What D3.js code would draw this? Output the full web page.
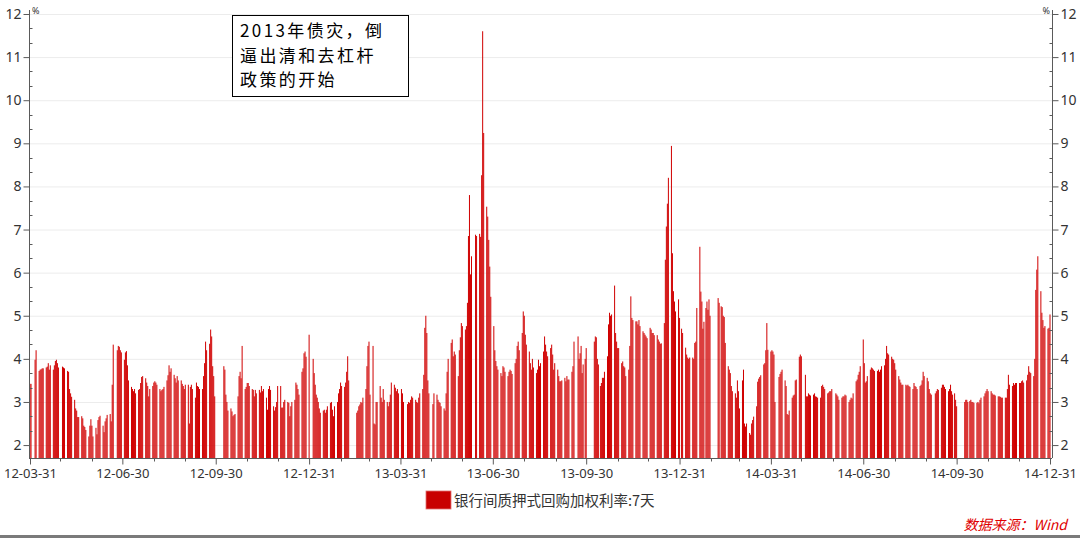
<!DOCTYPE html>
<html><head><meta charset="utf-8">
<script src="https://cdn.jsdelivr.net/npm/d3@7"></script>
<style>
html,body{margin:0;padding:0;background:#fff;}
svg{display:block;}
</style></head>
<body><svg id="c" width="1080" height="538"></svg>
<script>
// ---- data ----
const seriesName = "银行间质押式回购加权利率:7天";
const sourceText = "数据来源：Wind";
const noteLines = ["2013年债灾，倒", "逼出清和去杠杆", "政策的开始"];
const yTicks = [2,3,4,5,6,7,8,9,10,11,12];
const xTickDates = ["2012-03-31","2012-06-30","2012-09-30","2012-12-31","2013-03-31","2013-06-30","2013-09-30","2013-12-31","2014-03-31","2014-06-30","2014-09-30","2014-12-31"];
const holidays = ["2012-04-02","2012-04-03","2012-04-04","2012-04-30","2012-05-01","2012-06-22","2012-10-01","2012-10-02","2012-10-03","2012-10-04","2012-10-05","2013-01-01","2013-01-02","2013-01-03","2013-02-11","2013-02-12","2013-02-13","2013-02-14","2013-02-15","2013-04-04","2013-04-05","2013-04-29","2013-04-30","2013-05-01","2013-06-10","2013-06-11","2013-06-12","2013-09-19","2013-09-20","2013-10-01","2013-10-02","2013-10-03","2013-10-04","2013-10-07","2014-01-01","2014-01-31","2014-02-03","2014-02-04","2014-02-05","2014-02-06","2014-04-07","2014-05-01","2014-05-02","2014-06-02","2014-09-08","2014-10-01","2014-10-02","2014-10-03","2014-10-06","2014-10-07"];
const makeupDays = ["2012-03-31","2012-04-01","2012-04-28","2012-09-29","2013-01-05","2013-01-06","2013-02-16","2013-02-17","2013-04-07","2013-04-27","2013-04-28","2013-06-08","2013-06-09","2013-09-22","2013-09-29","2013-10-12","2014-01-26","2014-02-08","2014-05-04","2014-09-28","2014-10-11"];

const m1203 = [3.42];
const m1204 = [3.42,3.98,4.2,3.72,3.75,3.76,3.78,3.78,3.8,3.82,3.9,3.75,3.85,3.75,3.85,3.95,3.98,3.9,3.8];
const m1205 = [3.82,3.8,3.78,3.72,3.7,3.3,3.2,3.12,3.05,2.85,2.8,2.65,2.65,2.67,2.62,2.45,2.42,2.35,2.2,2.45,2.6,2.45];
const m1206 = [2.2,2.4,2.25,2.58,2.65,2.68,2.45,2.3,2.55,2.62,2.7,2.72,2.55,3.4,4.33,4.2,4.3,4.28,4.2,4.15];
const m1207 = [3.98,4.15,4.18,3.85,3.5,3.35,3.3,3.25,3.3,3.2,3.28,3.3,3.44,3.58,3.6,3.55,3.45,3.37,3.13,3.3,3.37,3.45];
const m1208 = [3.48,3.45,3.4,3.3,3.25,3.28,3.3,3.35,3.5,3.62,3.85,3.7,3.78,3.63,3.55,3.45,3.6,3.5,3.5,3.42,3.37,3.3,3.4];
const m1209 = [3.4,2.5,3.35,3.4,3.3,3.1,3.45,3.37,3.35,3.3,3.3,3.6,3.9,4.4,4.2,4.35,4.68,4.52,3.83,3.6,3.13];
const m1210 = [3.83,3.75,3.17,3.0,2.8,2.85,2.78,2.67,2.7,2.72,3.13,3.6,3.7,3.55,4.3,3.3,3.35,3.44];
const m1211 = [3.44,3.37,3.3,3.28,3.13,3.28,3.2,3.28,3.22,3.37,3.25,3.3,3.1,2.82,3.3,3.37,3.28,2.9,2.8,2.88,3.0,3.37];
const m1212 = [3.37,2.87,2.87,3.0,3.05,3.0,2.98,2.67,2.9,3.0,3.05,3.45,3.4,3.3,3.17,3.7,3.78,4.13,4.17,4.05,4.56];
const m1301 = [4.0,3.67,3.4,3.17,3.1,3.0,2.85,2.75,2.8,2.82,2.75,2.82,2.9,2.98,3.0,2.82,2.67,2.9,3.0,3.2,3.3,3.45];
const m1302 = [3.37,3.35,3.45,3.7,4.06,3.5,2.75,2.8,2.9,2.94,3.0,2.98,3.1,3.3,3.83,4.3,4.4];
const m1303 = [3.17,4.3,2.5,2.48,3.0,3.0,3.37,3.1,3.0,3.3,3.05,3.0,2.9,3.0,3.17,3.45,3.4,3.33,3.25,3.3,3.2];
const m1304 = [3.3,3.2,3.0,2.95,3.0,2.98,3.05,3.13,3.1,3.05,3.0,2.98,3.1,3.2,3.3,3.63,4.72,5.0,4.6,3.5,3.2];
const m1305 = [2.95,3.2,3.17,3.05,3.0,2.98,2.9,2.85,2.8,3.2,3.7,4.0,4.37,4.45,4.06,4.17,4.1,3.6,4.2,4.5,4.83,4.76];
const m1306 = [4.68,4.76,5.3,6.85,7.8,5.96,6.38,6.88,6.85,6.9,6.83,8.26,11.6,9.24,7.53,7.3,6.76,6.14,5.44];
const m1307 = [4.76,4.2,3.95,3.83,3.75,3.67,3.6,3.83,3.8,3.7,3.6,3.7,3.75,3.72,3.65,3.9,4.0,4.3,4.4,4.2,4.6,5.1,5.0];
const m1308 = [4.56,4.33,4.17,3.9,3.75,4.0,3.8,3.67,3.75,3.98,3.83,3.9,4.17,4.52,4.33,4.17,4.06,4.25,4.33,4.1,3.75,3.9];
const m1309 = [3.75,3.6,3.48,3.48,3.5,3.56,3.48,3.6,3.52,3.52,3.7,3.83,4.4,4.52,4.0,4.13,4.3,3.67,3.87,4.0,4.25];
const m1310 = [4.4,4.52,4.5,4.0,3.87,3.37,3.44,3.56,3.56,3.7,4.06,4.8,5.07,5.0,5.03,5.7,4.6,4.4,4.25];
const m1311 = [4.25,3.9,3.94,3.83,3.8,3.6,3.75,4.3,5.45,4.95,4.9,4.87,4.87,4.8,4.9,4.76,4.64,4.6,4.56,4.52,4.48];
const m1312 = [4.72,4.68,4.6,4.6,4.55,4.55,4.45,4.4,4.35,4.36,4.83,6.3,7.07,7.6,8.2,8.94,6.45,5.57,5.33,5.1,5.38,4.95];
const m1401 = [4.7,4.6,4.26,4.1,4.03,4.0,4.03,4.03,4.0,4.37,4.4,5.18,6.6,5.56,5.33,4.7,4.86,5.18,5.33,5.14,5.38,5.0];
const m1402 = [5.41,5.3,5.22,5.2,5.0,4.97,4.37,3.83,3.75,3.67,3.37,3.25,3.2,3.1,3.5,3.25,2.85];
const m1403 = [3.5,3.75,2.5,2.43,2.5,2.28,2.24,2.5,2.58,2.66,2.9,3.47,3.54,3.58,3.62,3.87,3.9,4.2,4.83,4.21,4.17];
const m1404 = [4.2,4.17,4.1,3.0,3.58,3.65,3.7,3.75,3.5,3.37,2.72,2.7,2.8,3.1,3.15,3.17,3.5,3.52,4.05,4.1,4.06];
const m1405 = [3.63,3.13,3.13,3.2,3.17,3.15,3.17,3.2,3.13,3.12,3.1,3.1,3.37,3.4,3.35,3.3,3.2,3.22,3.25,3.25,3.3];
const m1406 = [3.2,3.17,3.13,3.05,3.1,3.13,3.13,3.17,3.15,3.0,3.05,3.1,3.08,3.2,3.48,3.52,3.63,3.7,3.83,4.45];
const m1407 = [3.9,3.45,3.48,3.6,3.75,3.8,3.78,3.75,3.72,3.72,3.75,3.7,3.75,3.83,3.85,4.0,4.3,4.13,4.1,4.05,4.0,3.98,3.9];
const m1408 = [3.75,3.6,3.52,3.45,3.4,3.4,3.4,3.38,3.4,3.37,3.35,3.3,3.44,3.37,3.35,3.3,3.37,3.4,3.5,3.7,3.6];
const m1409 = [3.56,3.48,3.3,3.2,3.17,3.2,3.25,3.3,3.28,3.33,3.4,3.4,3.35,3.3,3.25,3.3,3.4,3.25,3.17,3.2,3.05,2.9];
const m1410 = [3.0,3.05,3.05,3.0,3.02,3.05,3.0,3.0,2.98,2.98,3.0,2.97,3.05,3.1,3.13,3.2,3.25,3.3,3.25];
const m1411 = [3.25,3.2,3.17,3.17,3.15,3.13,3.13,3.12,3.1,3.1,3.1,3.1,3.3,3.63,3.4,3.37,3.44,3.4,3.44,3.44];
const m1412 = [3.44,3.44,3.48,3.5,3.45,3.5,3.63,3.83,3.7,3.67,3.6,4.0,5.6,6.07,6.38,5.57,5.07,4.9,4.72,4.76,4.7,4.72,5.03];

const months = [
  [2012,3,m1203],[2012,4,m1204],[2012,5,m1205],[2012,6,m1206],[2012,7,m1207],[2012,8,m1208],[2012,9,m1209],[2012,10,m1210],[2012,11,m1211],[2012,12,m1212],
  [2013,1,m1301],[2013,2,m1302],[2013,3,m1303],[2013,4,m1304],[2013,5,m1305],[2013,6,m1306],[2013,7,m1307],[2013,8,m1308],[2013,9,m1309],[2013,10,m1310],[2013,11,m1311],[2013,12,m1312],
  [2014,1,m1401],[2014,2,m1402],[2014,3,m1403],[2014,4,m1404],[2014,5,m1405],[2014,6,m1406],[2014,7,m1407],[2014,8,m1408],[2014,9,m1409],[2014,10,m1410],[2014,11,m1411],[2014,12,m1412]
];

// ---- build trading-day table ----
const fmtKey = d3.timeFormat("%Y-%m-%d");
const parseKey = d3.timeParse("%Y-%m-%d");
const holSet = new Set(holidays), mkSet = new Set(makeupDays);
const startDate = parseKey("2012-03-31"), endDate = parseKey("2014-12-31");
const data = [];
months.forEach(([y, m, vals]) => {
  const days = d3.timeDays(new Date(y, m - 1, 1), new Date(y, m, 1)).filter(d => {
    const k = fmtKey(d), wd = d.getDay();
    if (d < startDate) return false;
    if (mkSet.has(k)) return true;
    return wd !== 0 && wd !== 6 && !holSet.has(k);
  });
  days.forEach((d, i) => { if (i < vals.length) data.push({date: d, value: vals[i]}); });
});

// ---- chart ----
const svg = d3.select("#c");
const cjk = "'Noto Sans CJK SC','Noto Sans',sans-serif";
const num = "'Noto Sans','Open Sans',sans-serif";
const L = 29, R = 1052, T = 14, B = 458;

const x = d3.scaleTime().domain([startDate, endDate]).range([30, 1050]);
const y = d3.scaleLinear().domain([1.7, 12]).range([B, T]);

// gridlines
svg.append("g").selectAll("line").data(yTicks).join("line")
  .attr("x1", L).attr("x2", R).attr("y1", d => y(d) + 0.5).attr("y2", d => y(d) + 0.5)
  .attr("stroke", "#ececec").attr("stroke-width", 1);

// bars
const bw = 1.0;
svg.append("g").selectAll("rect").data(data).join("rect")
  .attr("x", d => x(d.date) - bw / 2)
  .attr("width", bw)
  .attr("y", d => y(d.value))
  .attr("height", d => y(1.7) - y(d.value))
  .attr("fill", "#d00000");

// axes
const axisColor = "#5a5a5a";
function styleAxis(g) {
  g.selectAll("path,line").attr("stroke", axisColor);
  g.selectAll("text").attr("fill", "#333").style("font-family", num);
}
const minorY = d3.range(2, 12.01, 1/3).filter(v => Math.abs(v - Math.round(v)) > 0.01);

const gl = svg.append("g").attr("transform", `translate(${L + 0.5},0)`)
  .call(d3.axisLeft(y).tickValues(yTicks).tickSize(6).tickPadding(2).tickSizeOuter(0).tickFormat(d3.format("d")));
styleAxis(gl);
gl.selectAll("text").style("font-size", "14px");
gl.select(".domain").attr("d", `M0,10V${B}`);
gl.append("g").selectAll("line").data(minorY).join("line")
  .attr("x1", 0).attr("x2", 3).attr("y1", d => Math.round(y(d)) + 0.5).attr("y2", d => Math.round(y(d)) + 0.5)
  .attr("stroke", axisColor);

const gr = svg.append("g").attr("transform", `translate(${R + 0.5},0)`)
  .call(d3.axisRight(y).tickValues(yTicks).tickSize(6).tickPadding(2).tickSizeOuter(0).tickFormat(d3.format("d")));
styleAxis(gr);
gr.selectAll("text").style("font-size", "14px");
gr.select(".domain").attr("d", `M0,10V${B}`);
gr.append("g").selectAll("line").data(minorY).join("line")
  .attr("x1", -3).attr("x2", 0).attr("y1", d => Math.round(y(d)) + 0.5).attr("y2", d => Math.round(y(d)) + 0.5)
  .attr("stroke", axisColor);

const gx = svg.append("g").attr("transform", `translate(0,${B + 0.5})`)
  .call(d3.axisBottom(x).tickValues(xTickDates.map(parseKey)).tickSize(6).tickPadding(4).tickSizeOuter(0).tickFormat(d3.timeFormat("%y-%m-%d")));
styleAxis(gx);
gx.selectAll("text").style("font-size", "13px");
gx.select(".domain").attr("d", `M${L},0H${R}`);
const monthEnds = d3.timeMonths(new Date(2012, 4, 1), new Date(2015, 0, 1)).map(d => d3.timeDay.offset(d, -1))
  .filter(d => d.getMonth() % 3 !== 2);
gx.append("g").selectAll("line").data(monthEnds).join("line")
  .attr("x1", d => Math.round(x(d)) + 0.5).attr("x2", d => Math.round(x(d)) + 0.5).attr("y1", 0).attr("y2", 3)
  .attr("stroke", axisColor);

// % units
svg.append("text").attr("x", 32).attr("y", 14).text("%").style("font-family", num).style("font-size", "9px").attr("fill", "#333");
svg.append("text").attr("x", 1050).attr("y", 14).attr("text-anchor", "end").text("%").style("font-family", num).style("font-size", "9px").attr("fill", "#333");

// annotation box
const note = svg.append("g");
note.append("rect").attr("x", 232.5).attr("y", 15.5).attr("width", 176).attr("height", 81)
  .attr("fill", "#fff").attr("stroke", "#000").attr("stroke-width", 1);
note.selectAll("text").data(noteLines).join("text")
  .attr("x", 240).attr("y", (d, i) => 37 + i * 24.5)
  .text(d => d)
  .style("font-family", cjk).style("font-size", "17px").style("letter-spacing", "2.4px").attr("fill", "#000");

// legend
svg.append("rect").attr("x", 426).attr("y", 491).attr("width", 25).attr("height", 18)
  .attr("fill", "#c80000").attr("stroke", "#e07070").attr("stroke-width", 0.8);
svg.append("text").attr("x", 454).attr("y", 506).text(seriesName)
  .style("font-family", cjk).style("font-size", "14.5px").attr("fill", "#333");

// source
svg.append("text").attr("x", 1067).attr("y", 530).attr("text-anchor", "end").text(sourceText)
  .style("font-family", cjk).style("font-size", "14px").style("font-style", "italic").attr("fill", "#e00000");

// bottom band
svg.append("rect").attr("x", 0).attr("y", 535).attr("width", 1080).attr("height", 3).attr("fill", "#7a7a7a");
</script>
</body></html>
